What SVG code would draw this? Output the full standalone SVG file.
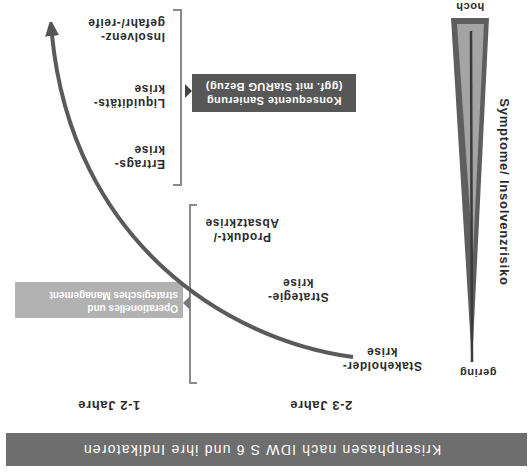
<svg xmlns="http://www.w3.org/2000/svg" width="532" height="476" viewBox="0 0 532 476">
<style>
.lbl{font-family:"Liberation Sans",Arial,sans-serif;font-weight:bold;font-size:12px;letter-spacing:0.6px;fill:#2b2b2b}
.boxt{font-family:"Liberation Sans",Arial,sans-serif;font-weight:bold;fill:#ffffff}
.brk{fill:none;stroke:#8a8a8a;stroke-width:2}
.mid{text-anchor:middle}
</style>
<defs>
<marker id="ah" markerUnits="userSpaceOnUse" markerWidth="14" markerHeight="18" refX="1" refY="7" orient="auto">
<path d="M0,0 L17,7 L0,14 z" fill="#555"/>
</marker>
</defs>
<rect width="532" height="476" fill="#ffffff"/>
<g transform="rotate(180 266 238)">
  <g id="title">
    <rect x="5" y="10" width="521" height="33" fill="#6e6e6e"/>
    <text x="270" y="31" class="mid" style="font-family:'Liberation Sans',Arial,sans-serif;font-size:14px;letter-spacing:1.2px;fill:#ffffff">Krisenphasen nach IDW S 6 und ihre Indikatoren</text>
  </g>
  <g id="time-labels">
    <text x="211" y="75" class="lbl mid" style="font-size:13px">2-3 Jahre</text>
    <text x="423" y="75" class="lbl mid" style="font-size:13px">1-2 Jahre</text>
  </g>
  <g id="risk-scale">
    <polygon points="60,112 43,458 81,458" fill="#5e5e5e"/>
    <polygon points="59,220 48,452 75,452" fill="#a4a4a4"/>
    <line x1="60" y1="114" x2="61" y2="445" stroke="#3a3a3a" stroke-width="2.5"/>
    <text x="54" y="107" class="lbl mid" style="font-size:11px">gering</text>
    <text x="62" y="473" class="lbl mid" style="font-size:11px">hoch</text>
    <text transform="translate(28,284) rotate(-90)" x="0" y="4" class="lbl mid" style="font-size:13px;letter-spacing:0.8px">Symptome/ Insolvenzrisiko</text>
  </g>
  <g id="stakeholder">
    <text x="150" y="114" class="lbl mid">Stakeholder-</text>
    <text x="150" y="128" class="lbl mid">krise</text>
  </g>
  <g id="strategie">
    <text x="234" y="183" class="lbl mid">Strategie-</text>
    <text x="234" y="197" class="lbl mid">krise</text>
  </g>
  <g id="produkt">
    <text x="290" y="243" class="lbl mid">Produkt-/</text>
    <text x="290" y="257" class="lbl mid">Absatzkrise</text>
  </g>
  <g id="ertrag">
    <text x="367" y="316" class="lbl">Ertrags-</text>
    <text x="367" y="330" class="lbl">krise</text>
  </g>
  <g id="liquiditaet">
    <text x="367" y="377" class="lbl">Liquiditäts-</text>
    <text x="367" y="391" class="lbl">krise</text>
  </g>
  <g id="insolvenz">
    <text x="367" y="443" class="lbl">Insolvenz-</text>
    <text x="367" y="457" class="lbl">gefahr/-reife</text>
  </g>
  <g id="bracket-early">
    <path class="brk" d="M335,93 H342 V271 H335"/>
  </g>
  <g id="bracket-late">
    <path class="brk" d="M359,291 H351 V466 H359"/>
  </g>
  <g id="box-management">
    <rect x="349" y="158" width="168" height="36" fill="#b2b2b2"/>
    <polygon points="342,166 342,180 349,173" fill="#7a7a7a"/>
    <text x="354" y="171" class="boxt" style="font-size:10px">Operationelles und</text>
    <text x="354" y="184" class="boxt" style="font-size:10px">strategisches Management</text>
  </g>
  <g id="box-sanierung">
    <rect x="176" y="364" width="164" height="38" fill="#575757"/>
    <polygon points="347,378 347,392 340,385" fill="#444"/>
    <text x="258" y="379" class="boxt mid" style="font-size:11px;letter-spacing:0.4px">Konsequente Sanierung</text>
    <text x="258" y="393" class="boxt mid" style="font-size:11px;letter-spacing:0.4px">(ggf. mit StaRUG Bezug)</text>
  </g>
  <g id="connectors">
    <path d="M179,119 C307,136 460,236 480,441" fill="none" stroke="#5a5a5a" stroke-width="4" marker-end="url(#ah)"/>
  </g>
</g>
</svg>
